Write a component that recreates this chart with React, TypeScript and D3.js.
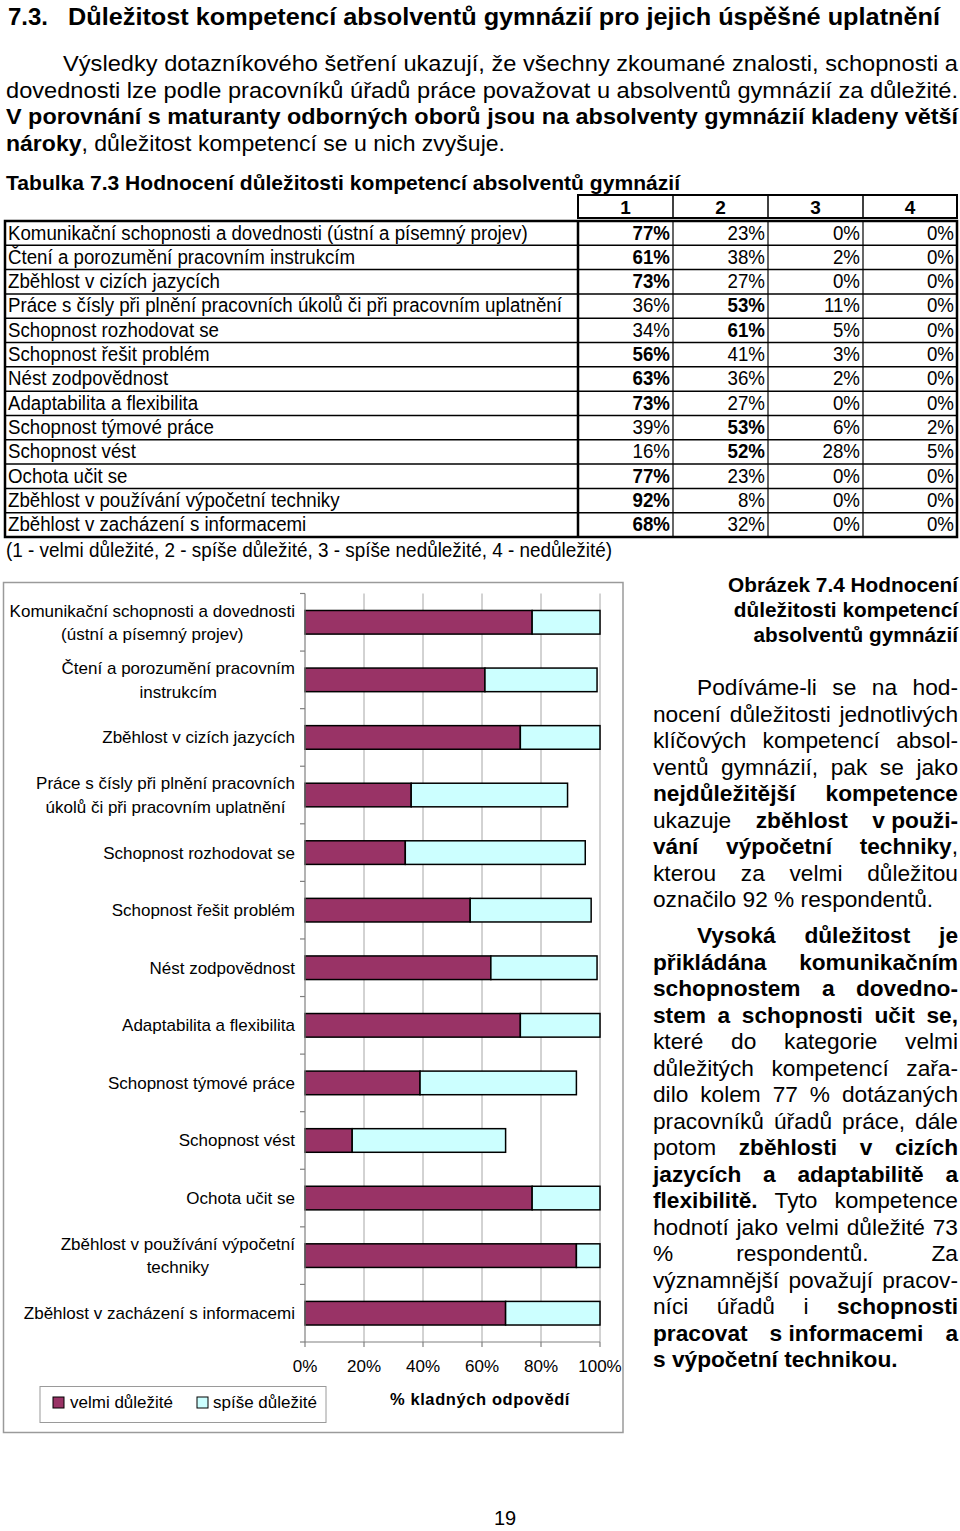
import React, { useEffect, useRef } from "react";
import * as d3 from "d3";

const FONT = "'Liberation Sans', Arial, Helvetica, sans-serif";

// ---------- DATA ----------
const rowLabels = [
  "Komunikační schopnosti a dovednosti (ústní a písemný projev)",
  "Čtení a porozumění pracovním instrukcím",
  "Zběhlost v cizích jazycích",
  "Práce s čísly při plnění pracovních úkolů či při pracovním uplatnění",
  "Schopnost rozhodovat se",
  "Schopnost řešit problém",
  "Nést zodpovědnost",
  "Adaptabilita a flexibilita",
  "Schopnost týmové práce",
  "Schopnost vést",
  "Ochota učit se",
  "Zběhlost v používání výpočetní techniky",
  "Zběhlost v zacházení s informacemi",
];
const chartLabels = [
  ["Komunikační schopnosti a dovednosti", "(ústní a písemný projev)"],
  ["Čtení a porozumění pracovním", "instrukcím"],
  ["Zběhlost v cizích jazycích"],
  ["Práce s čísly při plnění pracovních", "úkolů či při pracovním uplatnění"],
  ["Schopnost rozhodovat se"],
  ["Schopnost řešit problém"],
  ["Nést zodpovědnost"],
  ["Adaptabilita a flexibilita"],
  ["Schopnost týmové práce"],
  ["Schopnost vést"],
  ["Ochota učit se"],
  ["Zběhlost v používání výpočetní", "techniky"],
  ["Zběhlost v zacházení s informacemi"],
];
const velmi = [77, 61, 73, 36, 34, 56, 63, 73, 39, 16, 77, 92, 68];
const spise = [23, 38, 27, 53, 61, 41, 36, 27, 53, 52, 23, 8, 32];
const spiseNe = [0, 2, 0, 11, 5, 3, 2, 0, 6, 28, 0, 0, 0];
const nedulezite = [0, 0, 0, 0, 0, 0, 0, 0, 2, 5, 0, 0, 0];
const colHeaders = ["1", "2", "3", "4"];
const xTicks = [0, 20, 40, 60, 80, 100];
const seriesNames = ["velmi důležité", "spíše důležité"];
const seriesColors = ["#993366", "#CCFFFF"];
const axisTitle = "% kladných odpovědí";

const headingNum = "7.3.";
const headingText = "Důležitost kompetencí absolventů gymnázií pro jejich úspěšné uplatnění";
const introLines = [
  "Výsledky dotazníkového šetření ukazují, že všechny zkoumané znalosti, schopnosti a",
  "dovednosti lze podle pracovníků úřadů práce považovat u absolventů gymnázií za důležité.",
  "**V porovnání s maturanty odborných oborů jsou na absolventy gymnázií kladeny větší**",
  "**nároky**, důležitost kompetencí se u nich zvyšuje.",
];
const tableTitle = "Tabulka 7.3 Hodnocení důležitosti kompetencí absolventů gymnázií";
const footnote = "(1 - velmi důležité, 2 - spíše důležité, 3 - spíše nedůležité, 4 - nedůležité)";
const captionLines = ["Obrázek 7.4 Hodnocení", "důležitosti kompetencí", "absolventů gymnázií"];
const paraA = [
  "Podíváme-li se na hod-",
  "nocení důležitosti jednotlivých",
  "klíčových kompetencí absol-",
  "ventů gymnázií, pak se jako",
  "**nejdůležitější kompetence**",
  "ukazuje **zběhlost v\u00a0použi-**",
  "**vání výpočetní techniky**,",
  "kterou za velmi důležitou",
  "označilo 92 % respondentů.",
];
const paraB = [
  "**Vysoká důležitost je**",
  "**přikládána komunikačním**",
  "**schopnostem a dovedno-**",
  "**stem a schopnosti učit se,**",
  "které do kategorie velmi",
  "důležitých kompetencí zařa-",
  "dilo kolem 77 % dotázaných",
  "pracovníků úřadů práce, dále",
  "potom **zběhlosti v cizích**",
  "**jazycích a adaptabilitě a**",
  "**flexibilitě.** Tyto kompetence",
  "hodnotí jako velmi důležité 73",
  "% respondentů. Za",
  "významnější považují pracov-",
  "níci úřadů i **schopnosti**",
  "**pracovat s\u00a0informacemi a**",
  "**s výpočetní technikou.**",
];
const pageNumber = "19";

// ---------- helpers ----------
type Run = { t: string; b: boolean };
function parseRuns(s: string): Run[] {
  return s
    .split("**")
    .map((t, i) => ({ t, b: i % 2 === 1 }))
    .filter((r) => r.t.length > 0);
}
function toWords(s: string): Run[][] {
  const words: Run[][] = [];
  let cur: Run[] = [];
  for (const r of parseRuns(s)) {
    const pieces = r.t.split(" ");
    pieces.forEach((p, idx) => {
      if (idx > 0) {
        if (cur.length) words.push(cur);
        cur = [];
      }
      if (p) cur.push({ t: p, b: r.b });
    });
  }
  if (cur.length) words.push(cur);
  return words;
}

export default function App() {
  const paraRef = useRef<SVGGElement>(null);
  const labelRef = useRef<SVGGElement>(null);

  // chart geometry
  const x = d3.scaleLinear().domain([0, 100]).range([305, 600]);
  const y = d3
    .scaleBand<number>()
    .domain(d3.range(rowLabels.length))
    .range([593.5, 1342])
    .paddingInner(0.59)
    .paddingOuter(0.295);
  const step = y.step();
  const bandEdges = d3.range(rowLabels.length + 1).map((k) => 593.5 + k * step);
  const stackData = rowLabels.map((_, i) => ({ a: velmi[i], b: spise[i] }));

  // table geometry
  const tLeft = 5;
  const colEdges = [578, 673, 768, 863, 957];
  const bodyTop = 221;
  const bodyBottom = 537;
  const rowH = (bodyBottom - bodyTop) / rowLabels.length;
  const tableValues = rowLabels.map((_, i) => [velmi[i], spise[i], spiseNe[i], nedulezite[i]]);
  const SX = 0.935;

  useEffect(() => {
    // justified paragraphs
    const g = d3.select(paraRef.current);
    g.selectAll("*").remove();
    const LH = 26.5;
    const fs = 22.7;
    const right = 958;
    const drawPara = (lines: string[], startY: number) => {
      lines.forEach((line, i) => {
        const yy = startY + i * LH;
        const x0 = i === 0 ? 697 : 653;
        const words = toWords(line);
        const nodes = words.map((w) => {
          const t = g.append("text").attr("y", yy).attr("font-size", fs).attr("fill", "#000");
          w.forEach((r) =>
            t.append("tspan").attr("font-weight", r.b ? "bold" : "normal").text(r.t)
          );
          return t;
        });
        const widths = nodes.map((n) => (n.node() as SVGTextElement).getComputedTextLength());
        const sum = d3.sum(widths);
        const last = i === lines.length - 1;
        const gap =
          last || words.length < 2 ? fs * 0.278 : (right - x0 - sum) / (words.length - 1);
        let xx = x0;
        nodes.forEach((n, k) => {
          n.attr("x", xx);
          xx += widths[k] + gap;
        });
      });
    };
    drawPara(paraA, 695);
    drawPara(paraB, 943);

    // chart category labels (centered lines, right-aligned block)
    const lg = d3.select(labelRef.current);
    lg.selectAll("*").remove();
    chartLabels.forEach((lines, i) => {
      const cy = (y(i) as number) + y.bandwidth() / 2;
      const lh = 23.5;
      const nodes = lines.map((ln, k) =>
        lg
          .append("text")
          .attr("y", cy + (k - (lines.length - 1) / 2) * lh + 6)
          .attr("font-size", 17)
          .attr("text-anchor", "middle")
          .text(ln)
      );
      const W = d3.max(nodes.map((n) => (n.node() as SVGTextElement).getComputedTextLength())) || 0;
      nodes.forEach((n) => n.attr("x", 295 - W / 2));
    });
  }, []);

  return (
    <svg
      width={960}
      height={1531}
      style={{ position: "absolute", left: 0, top: 0, background: "#fff", fontFamily: FONT }}
    >
      <rect x={0} y={0} width={960} height={1531} fill="#fff" />

      {/* Heading */}
      <text x={8} y={25} fontSize={24.5} fontWeight="bold" textLength={40} lengthAdjust="spacingAndGlyphs">
        {headingNum}
      </text>
      <text x={68} y={25} fontSize={24.5} fontWeight="bold" textLength={872} lengthAdjust="spacingAndGlyphs">
        {headingText}
      </text>

      {/* intro paragraph */}
      {introLines.map((ln, i) => {
        const x0 = i === 0 ? 63 : 6;
        const len = i === 3 ? 499 : 958 - x0;
        return (
          <text key={i} x={x0} y={71 + i * 26.7} fontSize={22} textLength={len} lengthAdjust="spacingAndGlyphs">
            {parseRuns(ln).map((r, k) => (
              <tspan key={k} fontWeight={r.b ? "bold" : "normal"}>
                {r.t}
              </tspan>
            ))}
          </text>
        );
      })}

      {/* Table title */}
      <text x={6} y={190} fontSize={21} fontWeight="bold" textLength={674} lengthAdjust="spacingAndGlyphs">
        {tableTitle}
      </text>

      {/* Table header */}
      <g>
        <rect x={colEdges[0]} y={195} width={colEdges[4] - colEdges[0]} height={23} fill="none" stroke="#000" strokeWidth={2} />
        {colEdges.slice(1, 4).map((cx, k) => (
          <line key={k} x1={cx} x2={cx} y1={195} y2={218} stroke="#000" strokeWidth={1.5} />
        ))}
        {colHeaders.map((h, k) => (
          <text
            key={k}
            x={(colEdges[k] + colEdges[k + 1]) / 2}
            y={213.5}
            fontSize={19}
            fontWeight="bold"
            textAnchor="middle"
          >
            {h}
          </text>
        ))}
      </g>

      {/* Table body */}
      <g>
        {rowLabels.map((_, i) =>
          i > 0 ? (
            <line
              key={"h" + i}
              x1={tLeft}
              x2={colEdges[4]}
              y1={bodyTop + i * rowH}
              y2={bodyTop + i * rowH}
              stroke="#000"
              strokeWidth={1.5}
            />
          ) : null
        )}
        {colEdges.slice(1, 4).map((cx, k) => (
          <line key={"v" + k} x1={cx} x2={cx} y1={bodyTop} y2={bodyBottom} stroke="#000" strokeWidth={1.2} />
        ))}
        <line x1={colEdges[0]} x2={colEdges[0]} y1={bodyTop} y2={bodyBottom} stroke="#000" strokeWidth={2.5} />
        <rect x={tLeft} y={bodyTop} width={colEdges[4] - tLeft} height={bodyBottom - bodyTop} fill="none" stroke="#000" strokeWidth={2.5} />
        {rowLabels.map((lab, i) => (
          <text
            key={"l" + i}
            transform={`translate(${tLeft + 3},${bodyTop + i * rowH + 18.5}) scale(${SX},1)`}
            fontSize={20}
          >
            {lab}
          </text>
        ))}
        {tableValues.map((vals, i) => {
          const mx = Math.max(...vals);
          return vals.map((v, k) => (
            <text
              key={`c${i}-${k}`}
              transform={`translate(${colEdges[k + 1] - 3},${bodyTop + i * rowH + 18.5}) scale(${SX},1)`}
              fontSize={20}
              textAnchor="end"
              fontWeight={v === mx ? "bold" : "normal"}
            >
              {`${v}%`}
            </text>
          ));
        })}
      </g>

      {/* footnote */}
      <text x={6} y={557} fontSize={20.5} textLength={606} lengthAdjust="spacingAndGlyphs">
        {footnote}
      </text>

      {/* Chart frame */}
      <rect x={3.5} y={582.5} width={619.5} height={850} fill="#fff" stroke="#9a9a9a" strokeWidth={1.5} />

      {/* gridlines */}
      {xTicks.slice(1).map((t) => (
        <line key={"g" + t} x1={x(t)} x2={x(t)} y1={593.5} y2={1342} stroke="#a6a6a6" strokeWidth={1} />
      ))}

      {/* bars */}
      {stackData.map((d, i) => {
        const yy = y(i) as number;
        const h = y.bandwidth();
        return (
          <g key={"b" + i}>
            <rect x={x(0)} y={yy} width={x(d.a) - x(0)} height={h} fill={seriesColors[0]} stroke="#000" strokeWidth={1.5} />
            <rect x={x(d.a)} y={yy} width={x(d.a + d.b) - x(d.a)} height={h} fill={seriesColors[1]} stroke="#000" strokeWidth={1.5} />
          </g>
        );
      })}

      {/* axes */}
      <line x1={x(0)} x2={x(0)} y1={593.5} y2={1342} stroke="#808080" strokeWidth={1.2} />
      <line x1={x(0)} x2={x(100)} y1={1342} y2={1342} stroke="#808080" strokeWidth={1.2} />
      {bandEdges.map((e, k) => (
        <line key={"t" + k} x1={x(0) - 5} x2={x(0)} y1={e} y2={e} stroke="#808080" strokeWidth={1.2} />
      ))}
      {xTicks.map((t) => (
        <line key={"xt" + t} x1={x(t)} x2={x(t)} y1={1342} y2={1347} stroke="#808080" strokeWidth={1.2} />
      ))}
      {xTicks.map((t) => (
        <text key={"xl" + t} x={x(t)} y={1372} fontSize={17} textAnchor="middle">
          {`${t}%`}
        </text>
      ))}

      {/* category labels (measured) */}
      <g ref={labelRef} fill="#000" />

      {/* axis title */}
      <text x={480} y={1405} fontSize={16.5} fontWeight="bold" textAnchor="middle" letterSpacing={0.6}>
        {axisTitle}
      </text>

      {/* legend */}
      <rect x={40} y={1386.5} width={286} height={36} fill="#fff" stroke="#9a9a9a" strokeWidth={1} />
      {seriesNames.map((s, k) => (
        <g key={"lg" + k}>
          <rect x={k === 0 ? 53 : 197} y={1397} width={11} height={11} fill={seriesColors[k]} stroke="#000" strokeWidth={1} />
          <text x={k === 0 ? 70 : 213} y={1408} fontSize={17}>
            {s}
          </text>
        </g>
      ))}

      {/* caption */}
      {captionLines.map((c, i) => (
        <text key={"cap" + i} x={958} y={592 + i * 25} fontSize={20.8} fontWeight="bold" textAnchor="end">
          {c}
        </text>
      ))}

      {/* justified right column */}
      <g ref={paraRef} />

      {/* page number */}
      <text x={505} y={1525} fontSize={20} textAnchor="middle">
        {pageNumber}
      </text>
    </svg>
  );
}
